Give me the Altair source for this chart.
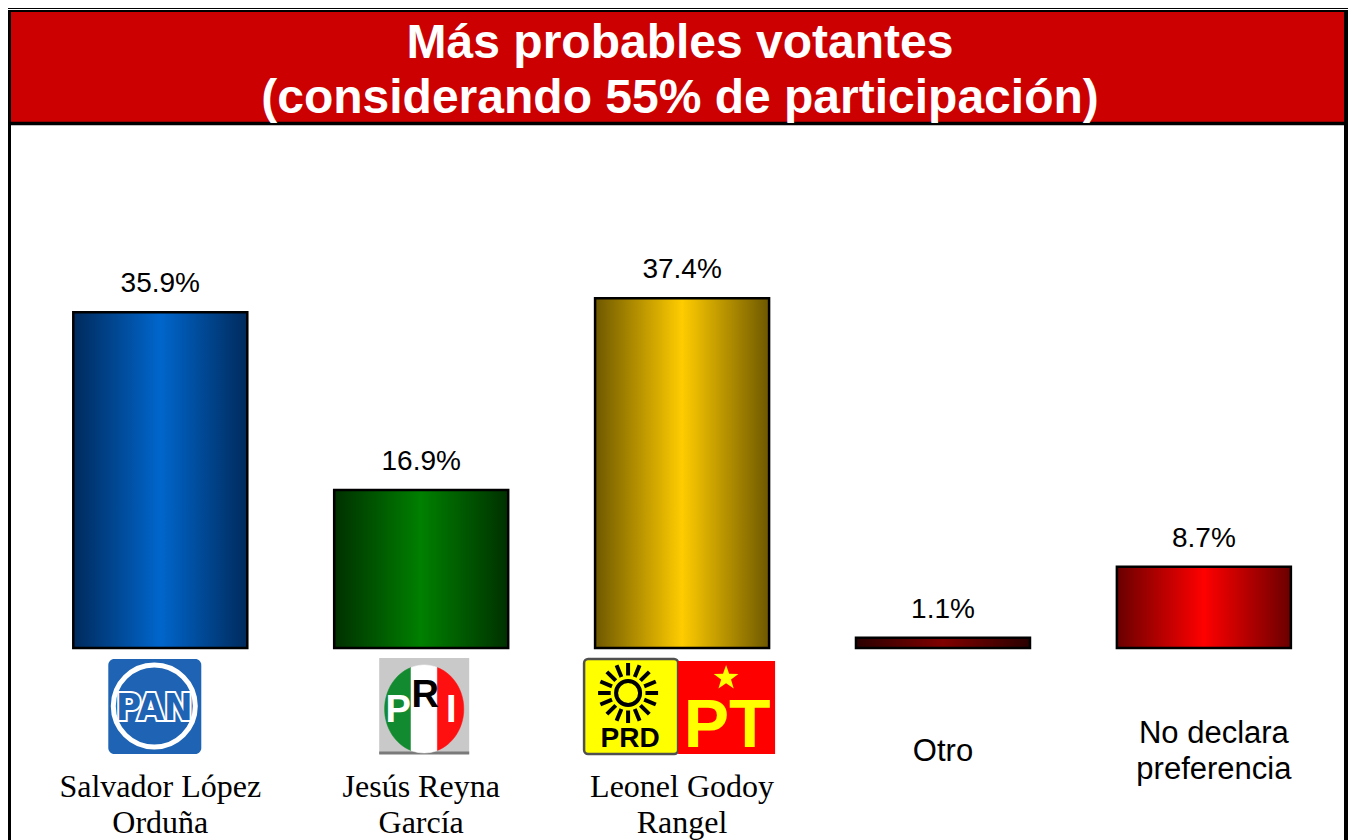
import math
import altair as alt
import pandas as pd

# ---------------- data ----------------
CATEGORIES = ["Salvador López Orduña", "Jesús Reyna García", "Leonel Godoy Rangel",
              "Otro", "No declara preferencia"]
LABEL_LINE1 = ["Salvador López", "Jesús Reyna", "Leonel Godoy", "Otro", "No declara"]
LABEL_LINE2 = ["Orduña", "García", "Rangel", "", "preferencia"]
VALUES = [35.9, 16.9, 37.4, 1.1, 8.7]
VALUE_LABELS = ["35.9%", "16.9%", "37.4%", "1.1%", "8.7%"]
TITLE_LINES = ["Más probables votantes", "(considerando 55% de participación)"]

# ---------------- layout ----------------
W, H = 1340, 832
X_DOMAIN = [-0.5837, 4.5524]
Y_DOMAIN = [-20.535, 68.449]
PXU = W / (X_DOMAIN[1] - X_DOMAIN[0])      # pixels per category step
HALF = 87 / PXU                               # half bar width in category units

xs = alt.Scale(domain=X_DOMAIN, zero=False, nice=False)
ys = alt.Scale(domain=Y_DOMAIN, zero=False, nice=False)

df = pd.DataFrame({
    "idx": list(range(len(CATEGORIES))),
    "cat": CATEGORIES,
    "v": VALUES,
    "lab": VALUE_LABELS,
    "l1": LABEL_LINE1,
    "l2": LABEL_LINE2,
})
one = pd.DataFrame({"k": [0]})

SANS = "Liberation Sans, Arial, Helvetica, sans-serif"
SERIF = "Liberation Serif, Times New Roman, serif"
NARROW = "Liberation Sans Narrow, DejaVu Sans Condensed, Arial Narrow, sans-serif"


def grad(edge, center):
    return {"gradient": "linear", "x1": 0, "x2": 1, "y1": 0, "y2": 0,
            "stops": [{"offset": 0, "color": edge},
                      {"offset": 0.5, "color": center},
                      {"offset": 1, "color": edge}]}


BAR_FILLS = [grad("#002a5c", "#0066cc"),
             grad("#003000", "#008000"),
             grad("#6e5800", "#ffcc00"),
             grad("#2a0000", "#800000"),
             grad("#6a0000", "#ff0000")]


def XD(i, off_px=0.0):
    return alt.XDatum(i + off_px / PXU, type="quantitative", scale=xs, axis=None)


def X2D(i, off_px=0.0):
    return alt.X2Datum(i + off_px / PXU)


layers = []

# ---------------- frame and banner ----------------
layers.append(alt.Chart(one).mark_rect(color="#CC0000").encode(
    x=alt.value(0), x2=alt.value(W), y=alt.value(3), y2=alt.value(114)))
layers.append(alt.Chart(one).mark_rule(color="black", strokeWidth=1).encode(
    x=alt.value(0), x2=alt.value(W), y=alt.value(0.5)))
layers.append(alt.Chart(one).mark_rule(color="black", strokeWidth=2).encode(
    x=alt.value(0), x2=alt.value(W), y=alt.value(3)))
layers.append(alt.Chart(one).mark_rule(color="black", strokeWidth=3.5).encode(
    x=alt.value(0), x2=alt.value(W), y=alt.value(115.5)))
layers.append(alt.Chart(one).mark_rule(color="black", strokeWidth=4).encode(
    x=alt.value(1), y=alt.value(2), y2=alt.value(H)))
layers.append(alt.Chart(one).mark_rule(color="black", strokeWidth=4).encode(
    x=alt.value(W - 2), y=alt.value(2), y2=alt.value(H)))

for line, yb in zip(TITLE_LINES, [50, 105]):
    layers.append(alt.Chart(one).mark_text(
        font=SANS, fontSize=48, fontWeight="bold", color="white",
        baseline="alphabetic", align="center").encode(
        x=alt.value(672), y=alt.value(yb), text=alt.value(line)))

# ---------------- bars ----------------
for i, fill in enumerate(BAR_FILLS):
    layers.append(
        alt.Chart(df).transform_filter(alt.datum.idx == i)
        .transform_calculate(xa=f"datum.idx - {HALF}", xb=f"datum.idx + {HALF}")
        .mark_rect(fill=fill, stroke="black", strokeWidth=2.5)
        .encode(x=alt.X("xa:Q", scale=xs, axis=None), x2="xb:Q",
                y=alt.Y("v:Q", scale=ys, axis=None), y2=alt.Y2Datum(0))
    )

# value labels
layers.append(alt.Chart(df).mark_text(
    font=SANS, fontSize=28, color="black", baseline="alphabetic", dy=-20).encode(
    x=alt.X("idx:Q", scale=xs, axis=None), y=alt.Y("v:Q", scale=ys, axis=None),
    text="lab:N"))

# category labels
cand = alt.Chart(df).transform_filter(alt.datum.idx < 3)
layers.append(cand.mark_text(font=SERIF, fontSize=32, color="black", baseline="alphabetic").encode(
    x=alt.X("idx:Q", scale=xs, axis=None), y=alt.value(789), text="l1:N"))
layers.append(cand.mark_text(font=SERIF, fontSize=32, color="black", baseline="alphabetic").encode(
    x=alt.X("idx:Q", scale=xs, axis=None), y=alt.value(825), text="l2:N"))
otro = alt.Chart(df).transform_filter(alt.datum.idx == 3)
layers.append(otro.mark_text(font=SANS, fontSize=31, color="black", baseline="alphabetic").encode(
    x=alt.X("idx:Q", scale=xs, axis=None), y=alt.value(753), text="l1:N"))
nod = alt.Chart(df).transform_filter(alt.datum.idx == 4)
layers.append(nod.mark_text(font=SANS, fontSize=31, color="black", baseline="alphabetic", dx=10).encode(
    x=alt.X("idx:Q", scale=xs, axis=None), y=alt.value(735), text="l1:N"))
layers.append(nod.mark_text(font=SANS, fontSize=31, color="black", baseline="alphabetic", dx=10).encode(
    x=alt.X("idx:Q", scale=xs, axis=None), y=alt.value(771), text="l2:N"))

# ---------------- logos (decorations) ----------------
# PAN (category 0)
layers.append(alt.Chart(one).mark_rect(fill="#1F64B4", cornerRadius=6).encode(
    x=XD(0, -52), x2=X2D(0, 41), y=alt.value(651), y2=alt.value(746)))
layers.append(alt.Chart(one).mark_point(shape="circle", filled=False, stroke="white",
                                         strokeWidth=5, size=82 * 82, opacity=1).encode(
    x=XD(0, -6), y=alt.value(698)))
layers.append(alt.Chart(one).mark_text(font=NARROW, fontWeight="bold", fontSize=38,
                                        color="white", stroke="white", strokeWidth=4,
                                        baseline="alphabetic").encode(
    x=XD(0, -6), y=alt.value(712), text=alt.value("PAN")))
layers.append(alt.Chart(one).mark_text(font=NARROW, fontWeight="bold", fontSize=38,
                                        color="#1F64B4", baseline="alphabetic").encode(
    x=XD(0, -6), y=alt.value(712), text=alt.value("PAN")))

# PRI (category 1)
layers.append(alt.Chart(one).mark_rect(fill="#C9C9C9").encode(
    x=XD(1, -42), x2=X2D(1, 48), y=alt.value(650), y2=alt.value(746)))
layers.append(alt.Chart(one).mark_rule(color="#7a7a7a", strokeWidth=3).encode(
    x=XD(1, -42), x2=X2D(1, 48), y=alt.value(745)))
k = 0.3
yy = math.sqrt(1 - (k / 0.9) ** 2)
left_seg = f"M {-k} {-yy} A 0.9 1 0 0 0 {-k} {yy} Z"
mid_seg = f"M {-k} {-yy} A 0.9 1 0 0 1 {k} {-yy} L {k} {yy} A 0.9 1 0 0 1 {-k} {yy} Z"
right_seg = f"M {k} {-yy} A 0.9 1 0 0 1 {k} {yy} Z"
for shp, col in [(left_seg, "#128A2F"), (mid_seg, "#FFFFFF"), (right_seg, "#FF1010")]:
    layers.append(alt.Chart(one).mark_point(shape=shp, filled=True, fill=col, stroke=col,
                                             strokeWidth=0.5, size=88 * 88, opacity=1).encode(
        x=XD(1, 3), y=alt.value(701)))
for letter, off, yb, col in [("P", -23, 714, "white"), ("R", 4, 699, "black"), ("I", 30, 714, "white")]:
    layers.append(alt.Chart(one).mark_text(font=SANS, fontWeight="bold", fontSize=38, color=col,
                                            baseline="alphabetic").encode(
        x=XD(1, off), y=alt.value(yb), text=alt.value(letter)))

# PRD + PT (category 2)
layers.append(alt.Chart(one).mark_rect(fill="#FFFF00", stroke="#505050", strokeWidth=2.5,
                                        cornerRadius=4).encode(
    x=XD(2, -98), x2=X2D(2, -4), y=alt.value(651), y2=alt.value(746)))
ring = "M 0.4 0 A 0.4 0.4 0 1 1 -0.4 0 A 0.4 0.4 0 1 1 0.4 0 "
rays = ""
for j in range(16):
    a = 2 * math.pi * j / 16
    rays += (f"M {0.58 * math.cos(a):.3f} {0.58 * math.sin(a):.3f} "
             f"L {1.0 * math.cos(a):.3f} {1.0 * math.sin(a):.3f} ")
layers.append(alt.Chart(one).mark_point(shape=ring + rays, filled=False, stroke="black",
                                         strokeWidth=4, size=60 * 60, opacity=1).encode(
    x=XD(2, -54), y=alt.value(685)))
layers.append(alt.Chart(one).mark_text(font=SANS, fontWeight="bold", fontSize=28, color="black",
                                        baseline="alphabetic").encode(
    x=XD(2, -52), y=alt.value(739), text=alt.value("PRD")))
layers.append(alt.Chart(one).mark_rect(fill="#FF0000").encode(
    x=XD(2, -4), x2=X2D(2, 93), y=alt.value(653), y2=alt.value(746)))
pts = []
for j in range(10):
    a = -math.pi / 2 + math.pi * j / 5
    r = 1.0 if j % 2 == 0 else 0.4
    pts.append(f"{r * math.cos(a):.3f} {r * math.sin(a):.3f}")
star = "M " + " L ".join(pts) + " Z"
layers.append(alt.Chart(one).mark_point(shape=star, filled=True, fill="#FFFF00",
                                         strokeWidth=0, size=26 * 26, opacity=1).encode(
    x=XD(2, 44), y=alt.value(670)))
layers.append(alt.Chart(one).mark_text(font=SANS, fontWeight="bold", fontSize=68, color="#FFFF00",
                                        baseline="alphabetic").encode(
    x=XD(2, 45), y=alt.value(739), text=alt.value("PT")))

chart = alt.layer(*layers).properties(
    width=W, height=H, padding=0,
    autosize=alt.AutoSizeParams(type="none"),
    background="white",
).configure_view(strokeWidth=0)

chart.save("out.html", embed_options={"renderer": "svg", "actions": False})
